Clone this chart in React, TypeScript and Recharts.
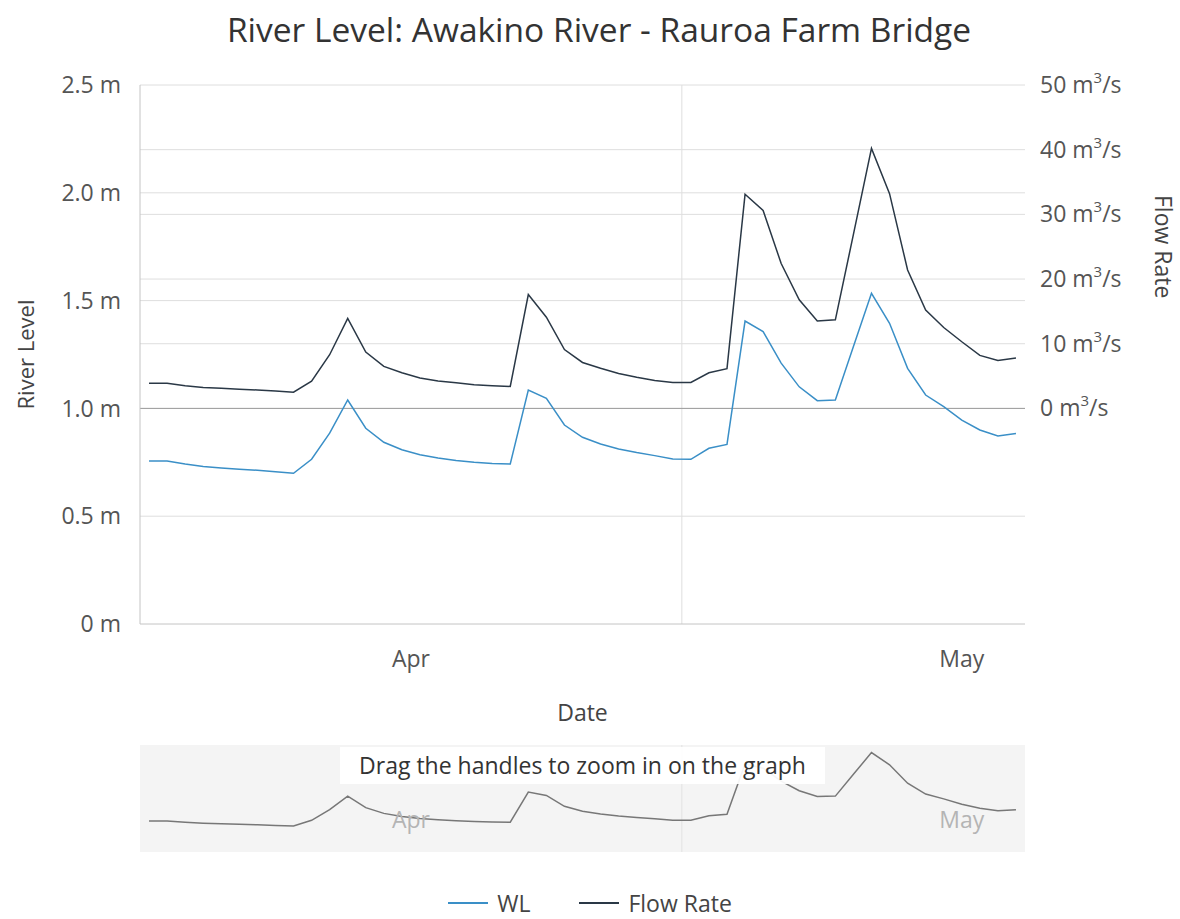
import React from "react";
import { LineChart, Line, XAxis, YAxis, ReferenceLine } from "recharts";

// daily readings, plotted at midday (x = days since 1 Apr)
const DAYS = [
  "Apr 1", "Apr 2", "Apr 3", "Apr 4", "Apr 5", "Apr 6", "Apr 7", "Apr 8", "Apr 9", "Apr 10",
  "Apr 11", "Apr 12", "Apr 13", "Apr 14", "Apr 15", "Apr 16", "Apr 17", "Apr 18", "Apr 19", "Apr 20",
  "Apr 21", "Apr 22", "Apr 23", "Apr 24", "Apr 25", "Apr 26", "Apr 27", "Apr 28", "Apr 29", "Apr 30",
  "May 1", "May 2", "May 3", "May 4", "May 5", "May 6", "May 7", "May 8", "May 9", "May 10",
  "May 11", "May 12", "May 13", "May 14", "May 15", "May 16", "May 17", "May 18", "May 19",
];

// river level (m)
const WL = [
  0.756, 0.756, 0.742, 0.731, 0.724, 0.718, 0.713, 0.706, 0.699, 0.764,
  0.885, 1.039, 0.908, 0.843, 0.808, 0.785, 0.770, 0.758, 0.750, 0.745,
  0.742, 1.085, 1.047, 0.923, 0.866, 0.835, 0.812, 0.795, 0.781, 0.765,
  0.764, 0.815, 0.833, 1.405, 1.356, 1.210, 1.100, 1.036, 1.039, 1.287,
  1.534, 1.395, 1.186, 1.062, 1.008, 0.946, 0.900, 0.872, 0.884,
];

// flow rate (m3/s)
const FLOW = [
  3.9, 3.9, 3.5, 3.25, 3.1, 2.95, 2.85, 2.7, 2.5, 4.2,
  8.3, 13.9, 8.7, 6.5, 5.5, 4.7, 4.25, 3.95, 3.65, 3.5,
  3.4, 17.6, 14.1, 9.1, 7.1, 6.2, 5.4, 4.8, 4.3, 4.0,
  4.0, 5.5, 6.15, 33.1, 30.6, 22.4, 16.8, 13.5, 13.7, 26.9,
  40.2, 33.2, 21.4, 15.2, 12.5, 10.3, 8.2, 7.4, 7.8,
];

const LEVEL_TICKS = [0, 0.5, 1, 1.5, 2, 2.5];
const FLOW_TICKS = [0, 10, 20, 30, 40, 50];
const MONTH_TICKS = [15, 45.5]; // mid-month
const MONTH_LABELS = ["Apr", "May"];
const MONTH_BOUNDARY = 30; // 1 May
const X_DOMAIN: [number, number] = [0, 49];
const FLOW_DOMAIN: [number, number] = [-100 / 3, 50];

const WL_COLOR = "#3a8fc7";
const FLOW_COLOR = "#2a3846";
const GRID = "#dedede";
const FONT = "'Segoe UI', 'Open Sans', sans-serif";
const FS = 23;

const rows = DAYS.map((day, i) => ({ t: i + 0.5, day, wl: WL[i], flow: FLOW[i] }));

const monthLabel = (v: number) => MONTH_LABELS[MONTH_TICKS.indexOf(v)] ?? "";

function FlowTick({ x, y, payload }: any) {
  return (
    <text x={x} y={y} dy={8} fill="#555" fontSize={FS} fontFamily={FONT} textAnchor="start">
      <tspan>{payload.value} m</tspan>
      <tspan fontSize={15} dy={-10}>3</tspan>
      <tspan dy={10}>/s</tspan>
    </text>
  );
}

function NavTick({ x, y, payload }: any) {
  return (
    <text x={x} y={y - 24} fill="#b4b4b4" fontSize={FS} fontFamily={FONT} textAnchor="middle">
      {monthLabel(payload.value)}
    </text>
  );
}

export default function App() {
  return (
    <div style={{ position: "fixed", top: 0, left: 0, width: 1180, height: 919, fontFamily: FONT, background: "#fff" }}>
      <div style={{ position: "absolute", top: 6, left: 9, width: 1180, textAlign: "center", fontSize: 33.5, color: "#333" }}>
        River Level: Awakino River - Rauroa Farm Bridge
      </div>

      <div style={{ position: "absolute", top: 0, left: 0 }}>
        <LineChart width={1180} height={740} data={rows} margin={{ top: 85, right: 0, bottom: 0, left: 0 }}>
          {LEVEL_TICKS.filter((v) => v > 0).map((v) => (
            <ReferenceLine key={"l" + v} yAxisId="left" y={v} stroke={GRID} />
          ))}
          {FLOW_TICKS.filter((v) => v > 0 && v < 50).map((v) => (
            <ReferenceLine key={"r" + v} yAxisId="right" y={v} stroke={GRID} />
          ))}
          <ReferenceLine yAxisId="left" x={MONTH_BOUNDARY} stroke={GRID} />
          <ReferenceLine yAxisId="right" y={0} stroke="#9c9c9c" />

          <XAxis
            dataKey="t"
            type="number"
            domain={X_DOMAIN}
            ticks={MONTH_TICKS}
            tickFormatter={monthLabel}
            height={116}
            tickSize={0}
            tickMargin={27}
            stroke="#c4c4c4"
            tick={{ fill: "#555", fontSize: FS, fontFamily: FONT }}
            label={{ value: "Date", position: "insideBottom", offset: 19, fill: "#444", fontSize: FS, fontFamily: FONT }}
          />
          <YAxis
            yAxisId="left"
            width={140}
            domain={[0, 2.5]}
            ticks={LEVEL_TICKS}
            allowDataOverflow
            tickFormatter={(v: number) => (v === 0 ? "0 m" : `${v.toFixed(1)} m`)}
            tickSize={0}
            tickMargin={19}
            stroke="#c4c4c4"
            tick={{ fill: "#555", fontSize: FS, fontFamily: FONT }}
            label={{
              content: ({ viewBox }: any) => (
                <text
                  transform={`translate(${viewBox.x + 25},${viewBox.y + viewBox.height / 2}) rotate(-90)`}
                  textAnchor="middle"
                  dominantBaseline="central"
                  fill="#444"
                  fontSize={22}
                  fontFamily={FONT}
                >
                  River Level
                </text>
              ),
            }}
          />
          <YAxis
            yAxisId="right"
            orientation="right"
            width={155}
            domain={FLOW_DOMAIN}
            ticks={FLOW_TICKS}
            allowDataOverflow
            axisLine={false}
            tickSize={0}
            tickMargin={15}
            tick={<FlowTick />}
            label={{
              content: ({ viewBox }: any) => {
                const mid = (FLOW_TICKS[0] + FLOW_TICKS[FLOW_TICKS.length - 1]) / 2;
                const frac = (FLOW_DOMAIN[1] - mid) / (FLOW_DOMAIN[1] - FLOW_DOMAIN[0]);
                return (
                  <text
                    transform={`translate(${viewBox.x + 139},${viewBox.y + viewBox.height * frac}) rotate(90)`}
                    textAnchor="middle"
                    dominantBaseline="central"
                    fill="#444"
                    fontSize={FS}
                    fontFamily={FONT}
                  >
                    Flow Rate
                  </text>
                );
              },
            }}
          />
          <Line yAxisId="left" dataKey="wl" name="WL" stroke={WL_COLOR} strokeWidth={1.5} dot={false} isAnimationActive={false} />
          <Line yAxisId="right" dataKey="flow" name="Flow Rate" stroke={FLOW_COLOR} strokeWidth={1.5} dot={false} isAnimationActive={false} />
        </LineChart>
      </div>

      {/* range navigator */}
      <div style={{ position: "absolute", top: 745, left: 140, width: 885, height: 107, background: "#f4f4f4" }} />
      <div style={{ position: "absolute", top: 700, left: 0 }}>
        <LineChart width={1180} height={160} data={rows} margin={{ top: 45, right: 155, bottom: 0, left: 140 }}>
          <ReferenceLine x={MONTH_BOUNDARY} stroke="#e2e2e2" />
          <XAxis
            dataKey="t"
            type="number"
            domain={X_DOMAIN}
            ticks={MONTH_TICKS}
            height={8}
            axisLine={false}
            tickLine={false}
            tickSize={0}
            tickMargin={0}
            interval={0}
            tick={<NavTick />}
          />
          <YAxis hide domain={[0.404, 1.62]} allowDataOverflow />
          <Line dataKey="wl" stroke="#777" strokeWidth={1.5} dot={false} isAnimationActive={false} />
        </LineChart>
      </div>
      <div
        style={{
          position: "absolute",
          top: 747,
          left: 340,
          width: 485,
          height: 37,
          background: "rgba(255,255,255,0.93)",
          color: "#333",
          fontSize: FS,
          lineHeight: "37px",
          textAlign: "center",
          whiteSpace: "nowrap",
        }}
      >
        Drag the handles to zoom in on the graph
      </div>

      {/* legend */}
      <div style={{ position: "absolute", top: 888, left: 0, width: 1180, height: 30, display: "flex", justifyContent: "center", gap: 49, fontSize: FS, color: "#444", lineHeight: "30px" }}>
        <div style={{ display: "flex", alignItems: "center", gap: 9 }}>
          <span style={{ display: "inline-block", width: 40, height: 1.5, background: WL_COLOR }} />
          <span>WL</span>
        </div>
        <div style={{ display: "flex", alignItems: "center", gap: 9 }}>
          <span style={{ display: "inline-block", width: 40, height: 1.5, background: FLOW_COLOR }} />
          <span>Flow Rate</span>
        </div>
      </div>
    </div>
  );
}
